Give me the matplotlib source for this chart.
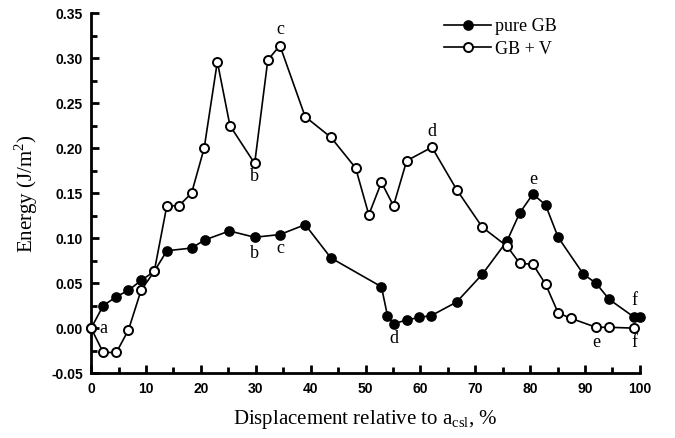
import matplotlib
matplotlib.use("Agg")
import matplotlib.pyplot as plt
from matplotlib.ticker import MultipleLocator

# pure GB (filled circles)
pure_x = [0, 2.2, 4.6, 6.8, 9.1, 11.5, 13.8, 18.3, 20.7, 25.2, 29.8, 34.4, 39.0, 43.7,
          52.9, 54.0, 55.1, 57.5, 59.8, 62.0, 66.6, 71.3, 75.8, 78.1, 80.5, 82.8,
          85.1, 89.7, 92.0, 94.4, 99.0, 100]
pure_y = [0.0, 0.025, 0.035, 0.042, 0.053, 0.063, 0.086, 0.089, 0.098, 0.108, 0.101,
          0.104, 0.115, 0.078, 0.046, 0.014, 0.005, 0.009, 0.012, 0.014, 0.029, 0.060,
          0.097, 0.128, 0.149, 0.137, 0.101, 0.060, 0.050, 0.032, 0.012, 0.012]

# GB + V (open circles)
vac_x = [0, 2.2, 4.6, 6.8, 9.1, 11.5, 13.8, 16.0, 18.3, 20.6, 23.0, 25.3, 29.8, 32.2,
         34.4, 39.0, 43.7, 48.2, 50.6, 52.9, 55.1, 57.5, 62.1, 66.6, 71.3, 75.8,
         78.1, 80.5, 82.8, 85.1, 87.4, 92.0, 94.4, 99.0]
vac_y = [0.0, -0.027, -0.027, -0.002, 0.042, 0.063, 0.136, 0.136, 0.150, 0.200, 0.296,
         0.225, 0.183, 0.298, 0.314, 0.235, 0.212, 0.178, 0.126, 0.162, 0.136, 0.186,
         0.201, 0.154, 0.112, 0.091, 0.072, 0.071, 0.049, 0.017, 0.011, 0.001, 0.001, 0.0]

# letter labels: (text, x, y)
vac_letters = [("a", 2.3, 0.0), ("b", 29.8, 0.168), ("c", 34.4, 0.332),
               ("d", 62.1, 0.218), ("e", 92.0, -0.016), ("f", 99.0, -0.016)]
pure_letters = [("b", 29.8, 0.083), ("c", 34.4, 0.088), ("d", 55.1, -0.011),
                ("e", 80.5, 0.165), ("f", 99.0, 0.031)]

serif = "Liberation Serif"

fig = plt.figure(figsize=(6.75, 4.38), dpi=100)
ax = fig.add_axes([0.135, 0.148, 0.813, 0.822])

ax.plot(pure_x, pure_y, color="black", lw=1.2, marker="o", ms=6.5,
        mfc="black", mec="black", mew=1.2, label="pure GB", clip_on=False, zorder=3)
ax.plot(vac_x, vac_y, color="black", lw=1.2, marker="o", ms=6.5,
        mfc="white", mec="black", mew=1.4, label="GB + V", clip_on=False, zorder=4)

for t, x, y in vac_letters + pure_letters:
    ax.text(x, y, t, family=serif, fontsize=13, ha="center", va="center")

ax.set_xlim(0, 100)
ax.set_ylim(-0.05, 0.35)
ax.xaxis.set_major_locator(MultipleLocator(10))
ax.xaxis.set_minor_locator(MultipleLocator(5))
ax.yaxis.set_major_locator(MultipleLocator(0.05))
ax.yaxis.set_minor_locator(MultipleLocator(0.025))
ax.yaxis.set_major_formatter(plt.FuncFormatter(lambda v, p: f"{v:.2f}"))

for s in ["top", "right"]:
    ax.spines[s].set_visible(False)
for s in ["left", "bottom"]:
    ax.spines[s].set_linewidth(2)
ax.tick_params(which="both", direction="in", width=2)
ax.tick_params(which="major", length=6, labelsize=10, pad=6)
ax.tick_params(which="minor", length=4)
for lab in ax.get_xticklabels() + ax.get_yticklabels():
    lab.set_family("Liberation Sans")
    lab.set_fontweight("bold")

ax.set_xlabel("Displacement relative to a$_{\\mathregular{csl}}$, %", family=serif,
              fontsize=15, labelpad=9)
ax.set_ylabel("Energy (J/m$^{\\mathregular{2}}$)", family=serif, fontsize=15, labelpad=8)

ax.legend(loc="upper left", bbox_to_anchor=(428 / 675, 1 - 2 / 438),
          bbox_transform=fig.transFigure, frameon=False,
          prop={"family": serif, "size": 13}, handlelength=2.6,
          handletextpad=0.2, labelspacing=0.3)

fig.savefig("out.png", dpi=100)
